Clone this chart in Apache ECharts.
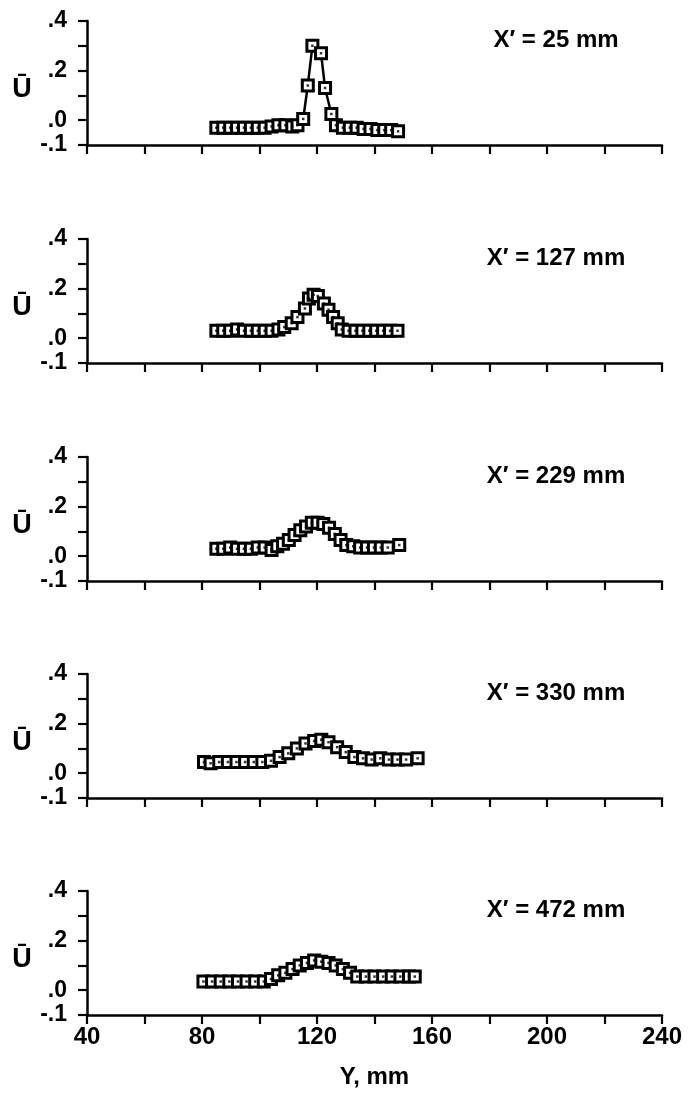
<!DOCTYPE html>
<html><head><meta charset="utf-8">
<script src="https://cdn.jsdelivr.net/npm/echarts@6/dist/echarts.min.js"></script>
<style>html,body{margin:0;padding:0;background:#fff}#c{width:691px;height:1097px}</style>
</head><body><div id="c"></div>
<script>
// ---- data ----
const panelTitles = ["X\u2032 = 25 mm", "X\u2032 = 127 mm", "X\u2032 = 229 mm", "X\u2032 = 330 mm", "X\u2032 = 472 mm"];
const yAxisTitle = "\u016A";
const xAxisTitle = "Y, mm";
const xTickLabels = { 40: "40", 80: "80", 120: "120", 160: "160", 200: "200", 240: "240" };
const yTickLabels = { "-1": "-.1", "0": ".0", "2": ".2", "4": ".4" };

const y25 = [85,87.4,89.8,92.2,94.6,97,99.4,101.8,104.2,106.6,109,111.4,113.2,115.2,116.8,118.4,121.4,122.8,125,126.6,129,131.4,133.8,136.2,138.6,141,143.4,145.8,148.2];
const u25 = [-.03,-.03,-.03,-.03,-.03,-.03,-.03,-.03,-.025,-.02,-.02,-.025,-.02,.005,.14,.30,.27,.13,.025,-.02,-.03,-.03,-.03,-.035,-.035,-.04,-.04,-.04,-.045];

const y127 = [85,87.4,89.8,92.2,94.6,97,99.4,101.8,104.2,106.6,108.6,111.2,113.2,115.8,117.2,118.8,120.3,122.4,124,125.6,127.2,128.6,131,133.4,135.8,138.2,140.6,143,145.4,148];
const u127 = [.03,.03,.03,.035,.03,.03,.03,.03,.03,.035,.045,.06,.085,.12,.16,.175,.17,.14,.115,.085,.06,.035,.03,.03,.03,.03,.03,.03,.03,.03];

const y229 = [85,87.4,89.8,92.2,94.6,97,99.4,101.8,104.2,106.2,108.2,110.2,112.2,114.2,116.2,118.2,120.2,122.2,124.2,126.2,128.2,130.2,132.6,135,137.4,139.8,142.2,144.6,148.6];
const u229 = [.03,.03,.035,.03,.03,.03,.035,.035,.025,.04,.05,.065,.085,.105,.12,.135,.135,.13,.115,.09,.065,.045,.04,.035,.035,.035,.035,.035,.045];

const y330 = [80.7,83,86,89,92,95,98,101,104,107,110,113,116,119,121.5,124,127,130,133,136,139,142,145,148,151,155];
const u330 = [.045,.04,.045,.045,.045,.045,.045,.045,.05,.065,.08,.1,.12,.13,.135,.125,.105,.085,.065,.06,.055,.06,.055,.055,.055,.06];

const y472 = [80.5,83.5,86.5,89.5,92.5,95.5,98.5,101.5,104,106.5,109,111.5,114,116.5,119,121.5,124,126.5,129,131.5,134,137,140,143,146,149,152,154];
const u472 = [.035,.035,.035,.035,.035,.035,.035,.035,.045,.06,.07,.085,.1,.11,.12,.115,.11,.1,.085,.07,.055,.055,.055,.055,.055,.055,.055,.055];

const panelsY = [y25, y127, y229, y330, y472];
const panelsU = [u25, u127, u229, u330, u472];

// ---- layout ----
const FONT = "'Liberation Sans', Arial, Helvetica, sans-serif";
const GRID_LEFT = 87, GRID_RIGHT = 29, PLOT_H = 124;
const AXIS_Y = [145, 363, 581, 798, 1015];

const chart = echarts.init(document.getElementById('c'), null, {renderer: 'canvas'});
const grid = [], xAxis = [], yAxis = [], series = [], graphic = [];

AXIS_Y.forEach((a, i) => {
  grid.push({left: GRID_LEFT, right: GRID_RIGHT, top: a - PLOT_H, height: PLOT_H});
  const last = i === AXIS_Y.length - 1;
  xAxis.push({
    type: 'value', gridIndex: i, min: 40, max: 240, interval: 20,
    axisLine: {show: true, onZero: false, lineStyle: {color: '#000', width: 2.5}},
    axisTick: {show: true, inside: false, length: 9, lineStyle: {color: '#000', width: 2.2}},
    axisLabel: {show: last, color: '#000', fontSize: 24, fontWeight: 'bold', fontFamily: FONT, margin: 10,
      formatter: v => xTickLabels[Math.round(v)] || ''},
    splitLine: {show: false},
    name: last ? xAxisTitle : '', nameLocation: 'middle', nameGap: 50,
    nameTextStyle: {color: '#000', fontSize: 24, fontWeight: 'bold', fontFamily: FONT}
  });
  yAxis.push({
    type: 'value', gridIndex: i, min: -0.1, max: 0.4, interval: 0.1,
    axisLine: {show: true, onZero: false, lineStyle: {color: '#000', width: 2.5}},
    axisTick: {show: true, inside: false, length: 9, lineStyle: {color: '#000', width: 2.2}},
    axisLabel: {color: '#000', fontSize: 23, fontWeight: 'bold', fontFamily: FONT, margin: 20,
      formatter: v => yTickLabels[String(Math.round(v * 10))] || ''},
    splitLine: {show: false}
  });
  const data = panelsY[i].map((x, k) => [x, panelsU[i][k]]);
  series.push({
    type: 'line', xAxisIndex: i, yAxisIndex: i, data: data,
    symbol: 'rect', symbolSize: 11, showAllSymbol: true,
    itemStyle: {color: '#fff', borderColor: '#000', borderWidth: 3},
    lineStyle: {color: '#000', width: 2.5}, z: 2, silent: true
  });
  series.push({
    type: 'scatter', xAxisIndex: i, yAxisIndex: i, data: data,
    symbol: 'rect', symbolSize: 2.5, itemStyle: {color: '#000'}, z: 3, silent: true
  });
  graphic.push({
    type: 'text', x: 556, y: a - 105,
    style: {text: panelTitles[i], fill: '#000', font: 'bold 24px ' + FONT, textAlign: 'center', textVerticalAlign: 'middle'}
  });
  graphic.push({
    type: 'text', x: 22, y: a - 55,
    style: {text: yAxisTitle, fill: '#000', font: 'bold 27px ' + FONT, textAlign: 'center', textVerticalAlign: 'middle'}
  });
});

chart.setOption({animation: false, backgroundColor: '#fff', grid, xAxis, yAxis, series, graphic});
</script>
</body></html>
